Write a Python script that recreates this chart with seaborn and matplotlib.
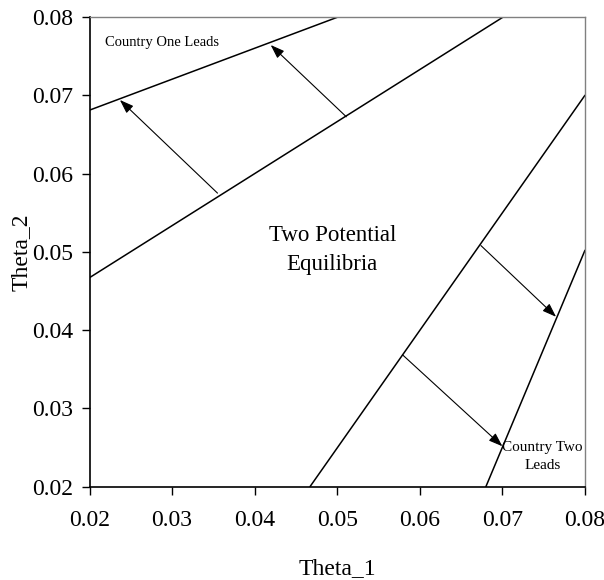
import matplotlib
matplotlib.use("Agg")
import matplotlib.pyplot as plt
import seaborn as sns
import pandas as pd

sns.set_theme(style="white")
plt.rcParams['font.family'] = ['Liberation Serif', 'DejaVu Serif']
plt.rcParams['text.color'] = 'black'
plt.rcParams['axes.labelcolor'] = 'black'

# Boundary lines: (x0, y0, x1, y1)
line_x0 = [0.02, 0.02, 0.0467, 0.068]
line_y0 = [0.0681, 0.0467, 0.02, 0.02]
line_x1 = [0.0501, 0.0701, 0.08, 0.08]
line_y1 = [0.08, 0.08, 0.070, 0.0502]

# Arrows: start -> tip
arrow_x0 = [0.0355, 0.0511, 0.0674, 0.0579]
arrow_y0 = [0.0575, 0.06725, 0.0508, 0.03685]
arrow_x1 = [0.02368, 0.04194, 0.0765, 0.0700]
arrow_y1 = [0.0694, 0.07642, 0.0417, 0.02516]

ticks = [0.02, 0.03, 0.04, 0.05, 0.06, 0.07, 0.08]
tick_labels = ["0.02", "0.03", "0.04", "0.05", "0.06", "0.07", "0.08"]

fig = plt.figure(figsize=(6.04, 5.8), dpi=100)
ax = fig.add_axes([0.1482, 0.1609, 0.8203, 0.8098])

rows = []
for i in range(len(line_x0)):
    rows.append({"x": line_x0[i], "y": line_y0[i], "line": i})
    rows.append({"x": line_x1[i], "y": line_y1[i], "line": i})
df = pd.DataFrame(rows)
sns.lineplot(data=df, x="x", y="y", units="line", estimator=None,
             color="black", lw=1.1, ax=ax, sort=False)

for i in range(len(arrow_x0)):
    ax.annotate("", xy=(arrow_x1[i], arrow_y1[i]), xytext=(arrow_x0[i], arrow_y0[i]),
                arrowprops=dict(arrowstyle="-|>,head_length=0.7,head_width=0.25",
                                color="black", lw=0.8, shrinkA=0, shrinkB=0))

ax.text(0.02188, 0.07668, "Country One Leads", fontsize=10.5, ha="left", va="center",
        color="black")
ax.text(0.04939, 0.05024, "Two Potential\nEquilibria", fontsize=16.5, ha="center",
        va="center", linespacing=1.55, color="black")
ax.text(0.07485, 0.02383, "Country Two\nLeads", fontsize=11, ha="center",
        va="center", linespacing=1.55, color="black")

ax.set_xlim(0.02, 0.08)
ax.set_ylim(0.02, 0.08)
ax.set_xticks(ticks)
ax.set_xticklabels(tick_labels)
ax.set_yticks(ticks)
ax.set_yticklabels(tick_labels)
ax.tick_params(axis="both", which="major", direction="out", length=5.8, width=1,
               color="black", labelsize=17, labelcolor="black", left=True, bottom=True)
ax.tick_params(axis="x", pad=11)
ax.tick_params(axis="y", pad=6)

ax.set_xlabel("Theta_1", fontsize=17, va="center", color="black")
ax.set_ylabel("Theta_2", fontsize=17, va="center", color="black")
ax.xaxis.set_label_coords(0.5, -0.175)
ax.yaxis.set_label_coords(-0.138, 0.5)

for s in ["left", "bottom"]:
    ax.spines[s].set_color("black")
    ax.spines[s].set_linewidth(1.2)
for s in ["top", "right"]:
    ax.spines[s].set_color("#808080")
    ax.spines[s].set_linewidth(1.0)
ax.grid(False)

fig.savefig("out.png", dpi=100)
